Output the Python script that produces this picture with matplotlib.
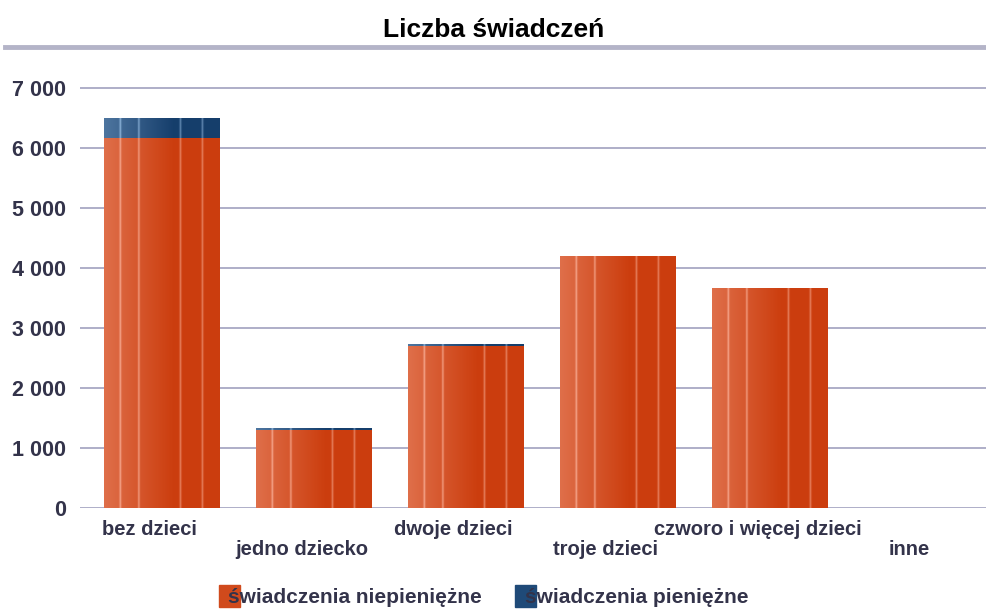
import matplotlib.pyplot as plt
import numpy as np
from matplotlib.lines import Line2D
from matplotlib.patches import Rectangle

plt.rcParams['font.family'] = ['Liberation Sans', 'DejaVu Sans']
plt.rcParams['font.weight'] = 'bold'

# Data
categories = ['bez dzieci', 'jedno dziecko', 'dwoje dzieci', 'troje dzieci',
              'czworo i więcej dzieci', 'inne']
niepieniezne = [6170, 1300, 2700, 4200, 3670, 0]
pieniezne = [330, 30, 30, 0, 0, 0]
series_names = ['świadczenia niepieniężne', 'świadczenia pieniężne']
yticks = [0, 1000, 2000, 3000, 4000, 5000, 6000, 7000]
ytick_labels = ['0', '1 000', '2 000', '3 000', '4 000', '5 000', '6 000', '7 000']

text_col = '#33334a'


def streak_gradient(dark, light):
    # horizontal gradient with light vertical streaks
    u = np.linspace(0, 1, 300)
    base = 0.5 - 0.45 * np.clip(u / 0.6, 0, 1)
    for s in (0.14, 0.30, 0.66, 0.85):
        base = base + 0.6 * np.exp(-((u - s) / 0.008) ** 2)
    base = np.clip(base, 0, 1)
    dark = np.array(dark)
    light = np.array(light)
    rgb = dark[None, :] * (1 - base[:, None]) + light[None, :] * base[:, None]
    return rgb[None, :, :]


orange_img = streak_gradient([0.79, 0.22, 0.03], [0.96, 0.65, 0.55])
blue_img = streak_gradient([0.06, 0.22, 0.40], [0.55, 0.70, 0.85])

fig = plt.figure(figsize=(9.87, 6.09), dpi=100)
ax = fig.add_axes([0.081, 0.166, 0.919, 0.757])

x = np.arange(len(categories))
b1 = ax.bar(x, niepieniezne, width=0.76, color='#d04a1c', zorder=3)
b2 = ax.bar(x, pieniezne, width=0.76, bottom=niepieniezne, color='#1f4a78', zorder=3)

for bars, img in ((b1, orange_img), (b2, blue_img)):
    for p in bars:
        if p.get_height() <= 0:
            continue
        x0, y0 = p.get_x(), p.get_y()
        im = ax.imshow(img, extent=[x0, x0 + p.get_width(), y0, y0 + p.get_height()],
                       aspect='auto', zorder=4, interpolation='bilinear')
        im.set_clip_path(p)

ax.set_xlim(-0.54, 5.43)
ax.set_ylim(0, 7680)
ax.set_yticks(yticks)
ax.set_yticklabels(ytick_labels, fontsize=15.5, color=text_col)
ax.yaxis.grid(True, color='#a8a8c4', linewidth=1.3, zorder=0)
ax.tick_params(axis='y', length=0, pad=10)
ax.tick_params(axis='x', length=0)
for s in ax.spines.values():
    s.set_visible(False)

ax.set_xticks(x)
ax.set_xticklabels([])
for i, c in enumerate(categories):
    off = 0.026 if i % 2 == 0 else 0.07
    ax.text(i - 0.08, -off, c, transform=ax.get_xaxis_transform(),
            ha='center', va='top', fontsize=14.5, color=text_col)

# top line under title
fig.add_artist(Line2D([0.005, 1.0], [1 - 47 / 609] * 2, color='#b4b4c8', linewidth=3.5))
fig.text(0.5, 1 - 30 / 609, 'Liczba świadczeń', ha='center', va='center',
         fontsize=19, fontweight='bold', color='black')

handles = [Rectangle((0, 0), 1, 1, color='#d04a1c'), Rectangle((0, 0), 1, 1, color='#1f4a78')]
fig.legend(handles, series_names, loc='center', bbox_to_anchor=(0.49, 1 - 596 / 609),
           ncol=2, frameon=False, fontsize=15, handlelength=1.0, handleheight=1.3,
           handletextpad=-0.55, columnspacing=1.6, labelcolor=text_col)

fig.savefig('out.png', dpi=100)
